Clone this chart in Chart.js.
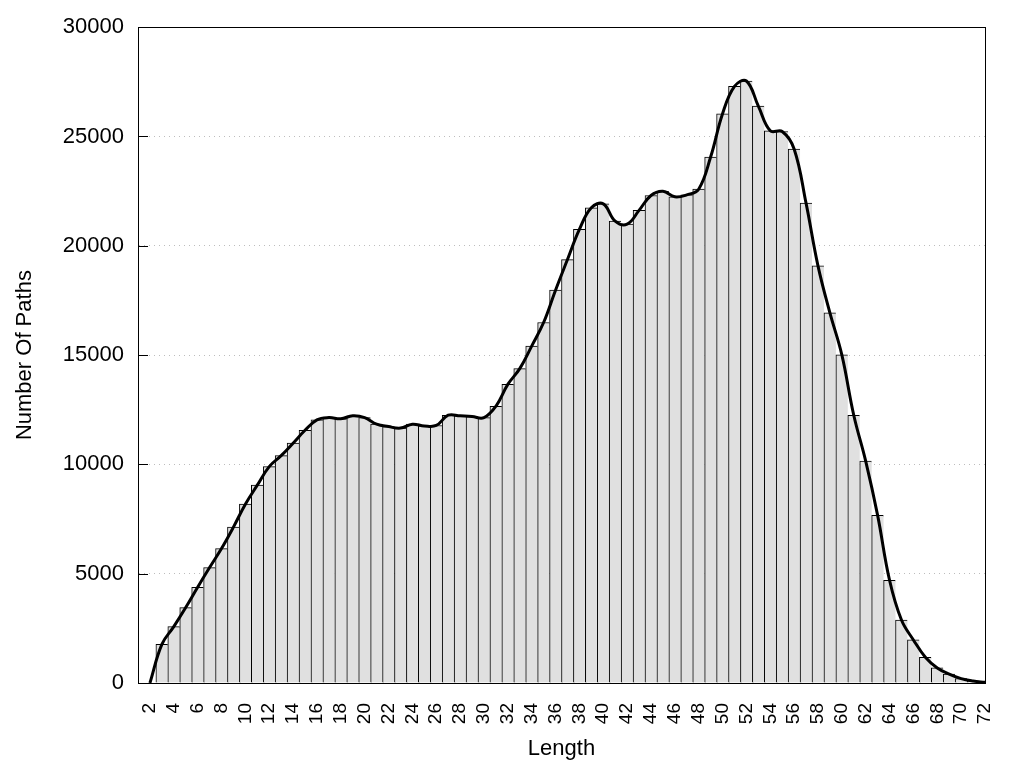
<!DOCTYPE html>
<html>
<head>
<meta charset="utf-8">
<script src="https://cdn.jsdelivr.net/npm/chart.js@4/dist/chart.umd.min.js"></script>
<style>
  html, body { margin: 0; padding: 0; background: #fff; }
  #wrap { width: 1024px; height: 768px; }
</style>
</head>
<body>
<div id="wrap"><canvas id="chart"></canvas></div>
<script>
// path lengths and how many paths have each length
const lengths = [2, 3, 4, 5, 6, 7, 8, 9, 10, 11, 12, 13, 14, 15, 16, 17, 18, 19, 20, 21,
  22, 23, 24, 25, 26, 27, 28, 29, 30, 31, 32, 33, 34, 35, 36, 37, 38, 39, 40, 41,
  42, 43, 44, 45, 46, 47, 48, 49, 50, 51, 52, 53, 54, 55, 56, 57, 58, 59, 60, 61,
  62, 63, 64, 65, 66, 67, 68, 69, 70, 71, 72]
const pathCounts = [0, 1770, 2580, 3450, 4380, 5280, 6150, 7130, 8180, 9050, 9900, 10400, 10970, 11560, 12040, 12140, 12090, 12220, 12140, 11840,
  11730, 11660, 11840, 11760, 11780, 12250, 12220, 12190, 12140, 12660, 13660, 14380, 15410, 16490, 17970, 19370, 20750, 21740, 21920, 21130,
  20990, 21620, 22300, 22490, 22240, 22330, 22590, 24060, 26040, 27290, 27540, 26390, 25260, 25230, 24430, 21950, 19080, 16930, 15010, 12250,
  10150, 7670, 4700, 2880, 1970, 1180, 690, 410, 200, 90, 30]
const xTicks = [2, 4, 6, 8, 10, 12, 14, 16, 18, 20, 22, 24, 26, 28, 30, 32, 34, 36,
  38, 40, 42, 44, 46, 48, 50, 52, 54, 56, 58, 60, 62, 64, 66, 68, 70, 72]

const points = lengths.map((len, i) => ({ x: len, y: pathCounts[i] }))
const FONT = "'Liberation Sans', Arial, sans-serif"

// gnuplot-like frame: box round the plot and short inward ticks on the y axis
const framePlugin = {
  id: "frame",
  beforeDatasetsDraw(chart) {
    const { ctx, chartArea: a, scales: { y } } = chart
    ctx.save()
    ctx.strokeStyle = "#000"
    ctx.lineWidth = 1
    ctx.beginPath()
    y.ticks.forEach(t => {
      const py = Math.round(y.getPixelForValue(t.value)) + 0.5
      ctx.moveTo(a.left, py)
      ctx.lineTo(a.left + 10, py)
    })
    ctx.stroke()
    ctx.restore()
  },
  afterDraw(chart) {
    const { ctx, chartArea: a } = chart
    ctx.save()
    ctx.strokeStyle = "#000"
    ctx.lineWidth = 1
    ctx.setLineDash([])
    ctx.strokeRect(Math.round(a.left) + 0.5, Math.round(a.top) + 0.5,
      Math.round(a.right - a.left), Math.round(a.bottom - a.top))
    ctx.restore()
  },
}

new Chart(document.getElementById("chart"), {
  data: {
    datasets: [
      {
        type: "line",
        data: points,
        borderColor: "#000",
        borderWidth: 3,
        pointRadius: 0,
        tension: 0.4,
        fill: false,
      },
      {
        type: "bar",
        data: points,
        backgroundColor: "#e0e0e0",
        borderColor: "#000",
        borderWidth: { top: 1, left: 1, right: 0, bottom: 0 },
        borderSkipped: false,
        barPercentage: 1,
        categoryPercentage: 1,
      },
    ],
  },
  options: {
    responsive: true,
    maintainAspectRatio: false,
    animation: false,
    layout: { padding: { top: 27, right: 39, left: 0, bottom: 0 } },
    plugins: { legend: { display: false }, tooltip: { enabled: false } },
    scales: {
      x: {
        type: "linear",
        offset: false,
        min: 1,
        max: 72,
        afterBuildTicks: (scale) => { scale.ticks = xTicks.map(v => ({ value: v })) },
        afterFit: (scale) => { scale.height = 85 },
        grid: { display: false },
        border: { color: "#000", width: 1 },
        ticks: {
          color: "#000",
          font: { family: FONT, size: 19 },
          minRotation: 90,
          maxRotation: 90,
          autoSkip: false,
          padding: 12,
        },
        title: {
          display: true,
          text: "Length",
          color: "#000",
          font: { family: FONT, size: 22 },
          padding: { top: 0, bottom: 6 },
        },
      },
      y: {
        min: 0,
        max: 30000,
        afterFit: (scale) => { scale.width = 138 },
        grid: {
          color: (c) => (c.tick.value === 0 || c.tick.value === 30000) ? "rgba(0,0,0,0)" : "#bdbdbd",
          drawTicks: false,
        },
        // in v4 the border dash is also used for the grid lines
        border: { color: "#000", width: 1, dash: [1, 4] },
        ticks: {
          stepSize: 5000,
          color: "#000",
          font: { family: FONT, size: 22 },
          padding: 14,
          callback: (v) => String(v),
        },
        title: {
          display: true,
          text: "Number Of Paths",
          color: "#000",
          font: { family: FONT, size: 22 },
          padding: { top: 12, bottom: 0 },
        },
      },
    },
  },
  plugins: [framePlugin],
})
</script>
</body>
</html>
